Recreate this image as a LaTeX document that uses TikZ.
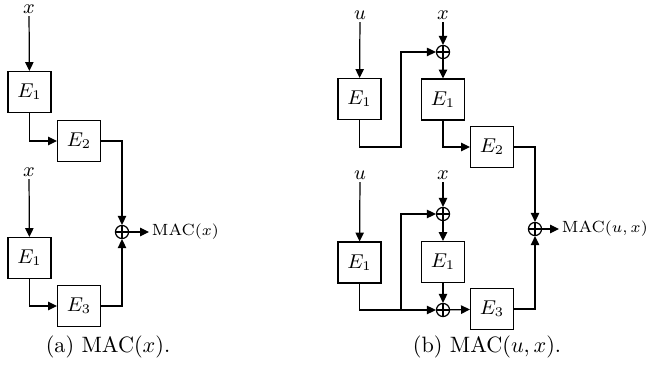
\documentclass[tikz,border=0pt]{standalone}
\usetikzlibrary{arrows.meta}
\begin{document}
\begin{tikzpicture}[x=0.45pt,y=-0.45pt,
  line width=0.55pt,
  boxnode/.style={draw, minimum width=19.3pt, minimum height=18.4pt, inner sep=0pt, font=\fontsize{9}{10}\selectfont},
  lbl/.style={inner sep=1pt, font=\fontsize{9}{10}\selectfont},
  maclbl/.style={inner sep=1pt, font=\fontsize{7.3}{9}\selectfont},
  xorop/.style={circle, draw, minimum size=5.9pt, inner sep=0pt,
    path picture={\draw[line width=0.5pt] (path picture bounding box.north) -- (path picture bounding box.south)
      (path picture bounding box.west) -- (path picture bounding box.east);}},
  arr/.style={-{Triangle[length=4pt,width=3.8pt]}},
  captext/.style={inner sep=0pt, font=\fontsize{10}{12}\selectfont}]
\useasboundingbox (0,0) rectangle (647,373);
% (a)
\node[lbl] (ax1) at (29,9) {$x$};
\node[boxnode] (aE1) at (29.5,92) {$E_1$};
\node[boxnode] (aE2) at (79,141) {$E_2$};
\node[lbl] (ax2) at (29,172) {$x$};
\node[boxnode] (aE1b) at (29.5,258) {$E_1$};
\node[boxnode] (aE3) at (79,306) {$E_3$};
\node[xorop] (aX) at (122,232) {};
\node[maclbl, anchor=west] (aMAC) at (149,232) {MAC$(x)$};
\draw[arr] (ax1) -- (aE1);
\draw[arr] (aE1) |- (aE2);
\draw[arr] (aE2) -| (aX);
\draw[arr] (ax2) -- (aE1b);
\draw[arr] (aE1b) |- (aE3);
\draw[arr] (aE3) -| (aX);
\draw[arr] (aX) -- (aMAC);
\node[captext] (capa) at (108,347) {(a) MAC($x$).};
% (b) top
\node[lbl] (bu1) at (360,15) {$u$};
\node[lbl] (bx1) at (443,15) {$x$};
\node[boxnode] (bE1a) at (359.5,99) {$E_1$};
\node[xorop] (bX1) at (443,52) {};
\node[boxnode] (bE1b) at (443,99.5) {$E_1$};
\node[boxnode] (bE2) at (492,147) {$E_2$};
\node[xorop] (bXo) at (535,229) {};
\node[maclbl, anchor=west] (bMAC) at (559,229) {MAC$(u,x)$};
\coordinate (bk1) at (401,147);
\draw[arr] (bu1) -- (bE1a);
\draw[arr] (bE1a) |- (bk1) |- (bX1);
\draw[arr] (bx1) -- (bX1);
\draw[arr] (bX1) -- (bE1b);
\draw[arr] (bE1b) |- (bE2);
\draw[arr] (bE2) -| (bXo);
\draw[arr] (bXo) -- (bMAC);
% (b) bottom
\node[lbl] (bu2) at (360,175) {$u$};
\node[lbl] (bx2) at (443,175) {$x$};
\node[boxnode] (bE1c) at (359.5,262.5) {$E_1$};
\node[xorop] (bX2) at (443,214) {};
\node[boxnode] (bE1d) at (443,262) {$E_1$};
\node[xorop] (bX3) at (443,310) {};
\node[boxnode] (bE3) at (492,309) {$E_3$};
\coordinate (bk2) at (401,310);
\draw[arr] (bu2) -- (bE1c);
\draw[arr] (bx2) -- (bX2);
\draw[arr] (bX2) -- (bE1d);
\draw[arr] (bE1d) -- (bX3);
\draw[arr] (bE1c) |- (bX3);
\draw[arr] (bk2) |- (bX2);
\draw[arr] (bX3) -- (bE3);
\draw[arr] (bE3) -| (bXo);
\node[captext] (capb) at (487,347) {(b) MAC($u,x$).};
\end{tikzpicture}
\end{document}
